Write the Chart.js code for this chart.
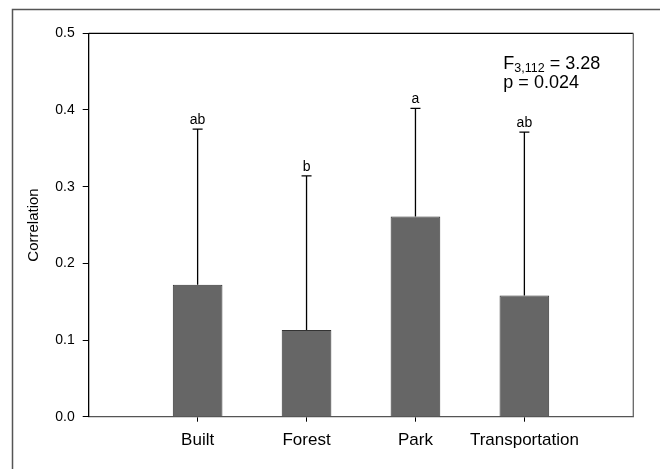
<!DOCTYPE html>
<html>
<head>
<meta charset="utf-8">
<script src="https://cdn.jsdelivr.net/npm/chart.js@4.4.1/dist/chart.umd.min.js"></script>
<style>
body { margin: 0; background: #fff; }
</style>
</head>
<body>
<canvas id="chart" width="660" height="469"></canvas>
<script>
// padded with empty slots so the bars sit at 1..4 on a 0..5 axis
const categories = ["", "Built", "Forest", "Park", "Transportation", ""];
const meanCorr = [null, 0.172, 0.113, 0.261, 0.158, null];
const errTop = [null, 0.375, 0.314, 0.402, 0.371, null];
const groupLetters = ["", "ab", "b", "a", "ab", ""];
const yTicks = [0, 0.1, 0.2, 0.3, 0.4, 0.5];

const FONT = "'Liberation Sans', Arial, sans-serif";

const framePlugin = {
id: "frame",
beforeDraw(chart){
const c = chart.ctx;
c.save();
c.strokeStyle = "#555";
c.lineWidth = 1.5;
c.strokeRect(12.5, 9.5, 700, 500);
c.restore();
},
afterDraw(chart){
const c = chart.ctx;
const a = chart.chartArea;
c.save();
c.lineWidth = 1.3;
c.strokeStyle = "#000";
c.beginPath();
c.moveTo(a.left, a.top);
c.lineTo(a.right, a.top);
c.stroke();
c.strokeStyle = "#666";
c.beginPath();
c.moveTo(a.right, a.top);
c.lineTo(a.right, a.bottom);
c.stroke();

// F statistic text
const tx = a.left + (a.right - a.left) * 0.7614;
const ty = a.top + 35.2;
c.fillStyle = "#000";
c.textBaseline = "alphabetic";
c.textAlign = "left";
c.font = "18px " + FONT;
c.fillText("F", tx, ty);
let w = c.measureText("F").width;
c.font = "12.5px " + FONT;
c.fillText("3,112", tx + w, ty + 3.2);
w += c.measureText("3,112").width;
c.font = "18px " + FONT;
c.fillText(" = 3.28", tx + w, ty);
c.fillText("p = 0.024", tx, ty + 19.2);
c.restore();
}
};

const errorBarPlugin = {
id: "errorBars",
afterDatasetsDraw(chart){
const c = chart.ctx;
const y = chart.scales.y;
const bars = chart.getDatasetMeta(0).data;
c.save();
c.strokeStyle = "#000";
c.lineWidth = 1.3;
c.fillStyle = "#000";
c.font = "14px " + FONT;
c.textAlign = "center";
c.textBaseline = "alphabetic";
bars.forEach((bar, i) => {
if(errTop[i] === null) return;
const top = y.getPixelForValue(errTop[i]);
c.beginPath();
c.moveTo(bar.x, bar.y);
c.lineTo(bar.x, top);
c.moveTo(bar.x - 5, top);
c.lineTo(bar.x + 5, top);
c.stroke();
c.fillText(groupLetters[i], bar.x, top - 5);
});
c.restore();
}
};

new Chart(document.getElementById("chart"), {
type: "bar",
data: {
labels: categories,
datasets: [{
data: meanCorr,
backgroundColor: "#666666",
borderColor: "#333333",
borderWidth: 1,
categoryPercentage: 1,
barPercentage: 0.456
}]
},
options: {
responsive: false,
animation: false,
layout: { padding: { left: 0, top: 33.3, right: 26.7, bottom: 0 } },
plugins: {
legend: { display: false },
tooltip: { enabled: false }
},
scales: {
x: {
offset: false,
afterFit(scale){ scale.height = 52.3; },
grid: {
offset: false,
drawOnChartArea: false,
tickLength: 5,
tickColor: (ctx) => (ctx.tick && ctx.tick.label === "") ? "rgba(0,0,0,0)" : "#000"
},
border: { color: "#555", width: 1.3 },
ticks: {
color: "#000",
font: { family: FONT, size: 17 },
padding: 8,
maxRotation: 0,
autoSkip: false
}
},
y: {
min: 0,
max: 0.5,
afterFit(scale){ scale.width = 88.7; },
afterBuildTicks(scale){ scale.ticks = yTicks.map(v => ({ value: v })); },
grid: {
drawOnChartArea: false,
tickLength: 6,
tickColor: "#000"
},
border: { color: "#000", width: 1.3 },
ticks: {
color: "#000",
font: { family: FONT, size: 14 },
padding: 8,
callback: (v) => v.toFixed(1)
},
title: {
display: true,
text: "Correlation",
color: "#000",
font: { family: FONT, size: 15 },
padding: { top: 25, bottom: 0 }
}
}
}
},
plugins: [framePlugin, errorBarPlugin]
});
</script>
</body>
</html>
